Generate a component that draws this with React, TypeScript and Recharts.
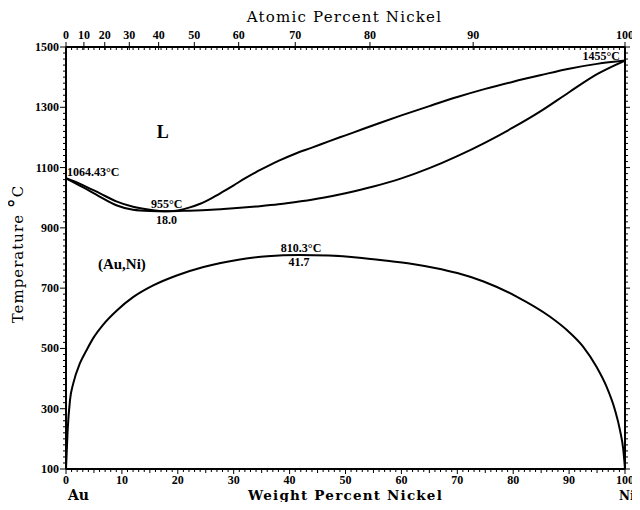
import React from "react"
import { LineChart, Line, XAxis, YAxis, ReferenceDot } from "recharts"

// Au-Ni phase diagram (wt% Ni, deg C)
const liquidus: [number, number][] = [
  [0, 1064.43], [3, 1042], [6, 1015], [9, 988], [12, 970], [15, 960],
  [18, 955], [20, 958], [22, 967], [24, 980], [26, 998], [28, 1019],
  [30, 1041], [32, 1064], [34, 1085], [36, 1104], [38, 1122], [41, 1146],
  [44, 1166], [47, 1187], [50, 1207], [53, 1227], [56, 1247], [60, 1273],
  [65, 1304], [70, 1334], [75, 1361], [80, 1385], [85, 1407], [90, 1428],
  [95, 1444], [100, 1455],
]

const solidus: [number, number][] = [
  [0, 1064.43], [3, 1035], [6, 1004], [9, 975], [12, 960], [15, 956],
  [18, 955], [22, 957], [26, 960], [30, 965], [34, 971], [38, 978],
  [42, 988], [46, 1000], [50, 1015], [55, 1037], [60, 1064], [65, 1098],
  [70, 1138], [75, 1183], [80, 1233], [85, 1288], [90, 1350], [95, 1410],
  [100, 1455],
]

const miscibilityGap: [number, number][] = [
  [0, 100], [0.3, 230], [0.72, 329], [1.3, 384], [2.5, 451], [3.7, 495],
  [4.9, 535], [6.7, 580], [9.1, 626], [12, 670], [15.6, 709], [19.8, 742],
  [24.6, 770], [31.1, 795], [36, 806], [41.7, 810.3], [47, 808], [52, 802],
  [57, 792], [62, 780], [66, 767], [70, 750], [74.7, 722], [80.6, 672],
  [86.6, 605], [89.6, 561], [92.5, 506], [94.9, 439], [96.7, 373],
  [98.2, 296], [99.1, 229], [99.7, 163], [100, 100],
]

const weightTicks = [0, 10, 20, 30, 40, 50, 60, 70, 80, 90, 100]
const atomicTicks = [0, 10, 20, 30, 40, 50, 60, 70, 80, 90, 100]
const tempTicks = [100, 300, 500, 700, 900, 1100, 1300, 1500]

const meltAu = 1064.43
const meltNi = 1455
const minimum = { wt: 18.0, t: 955 }
const critical = { wt: 41.7, t: 810.3 }

// atomic weights, for the top axis
const AU = 196.97
const NI = 58.69
const atToWt = (a: number) => (100 * a * NI) / (a * NI + (100 - a) * AU)

const toRows = (pts: [number, number][]) => pts.map(([wt, t]) => ({ wt, t }))

const minorWt = Array.from({ length: 101 }, (_, i) => i)
const minorTemp = Array.from({ length: 71 }, (_, i) => 100 + i * 20)
const atomicPos = atomicTicks.map(atToWt)
const topTicks = [...minorWt.filter((v) => v > 0 && v < 100), ...atomicPos]

const SERIF = "'Liberation Serif', 'Times New Roman', serif"
const DSERIF = "'DejaVu Serif', serif"

const LeftTick = ({ x, y, payload }: any) => {
  const major = tempTicks.includes(payload.value)
  return (
    <g>
      <line x1={x - (major ? 6 : 3)} x2={x} y1={y} y2={y} stroke="#000" />
      {major && (
        <text x={x - 7} y={y + 4} textAnchor="end" fontFamily={SERIF} fontWeight="bold" fontSize={12} fill="#000">
          {payload.value}
        </text>
      )}
    </g>
  )
}

const RightTick = ({ x, y, payload }: any) => {
  const major = tempTicks.includes(payload.value)
  return <line x1={x} x2={x + (major ? 5 : 3)} y1={y} y2={y} stroke="#000" />
}

const BottomTick = ({ x, y, payload }: any) => {
  const v = payload.value
  const major = weightTicks.includes(v)
  const len = major ? 5 : v % 5 === 0 ? 4 : 3
  return (
    <g>
      <line x1={x} x2={x} y1={y} y2={y + len} stroke="#000" />
      {major && (
        <text x={x} y={y + 15} textAnchor="middle" fontFamily={SERIF} fontWeight="bold" fontSize={12} fill="#000">
          {v}
        </text>
      )}
    </g>
  )
}

const TopTick = ({ x, y, payload }: any) => {
  const i = atomicPos.findIndex((p) => Math.abs(p - payload.value) < 1e-9)
  if (i < 0) return <line x1={x} x2={x} y1={y} y2={y + 3} stroke="#000" />
  return (
    <g>
      <line x1={x} x2={x} y1={y - 5} y2={y + 3} stroke="#000" />
      <text x={x} y={y - 8} textAnchor="middle" fontFamily={SERIF} fontWeight="bold" fontSize={12} fill="#000">
        {atomicTicks[i]}
      </text>
    </g>
  )
}

const Note = ({ viewBox, text, dx = 0, dy = 0, anchor = "middle", size = 12 }: any) => {
  if (!viewBox) return null
  return (
    <text
      x={viewBox.x + dx}
      y={viewBox.y + dy}
      textAnchor={anchor}
      fontFamily={SERIF}
      fontWeight="bold"
      fontSize={size}
      fill="#000"
    >
      {text}
    </text>
  )
}

const TopTitle = ({ viewBox }: any) => (
  <text
    x={viewBox.x + viewBox.width / 2 - 1}
    y={viewBox.y + viewBox.height - 25}
    textAnchor="middle"
    fontFamily={DSERIF}
    fontSize={15}
    letterSpacing={1.2}
    fill="#000"
  >
    Atomic Percent Nickel
  </text>
)

const BottomTitle = ({ viewBox }: any) => {
  const { x, y, width } = viewBox
  return (
    <g fontFamily={DSERIF} fontWeight="bold" fill="#000">
      <text x={x + width / 2} y={y + 31} textAnchor="middle" fontSize={13.5} letterSpacing={1.2}>
        Weight Percent Nickel
      </text>
      <text x={x + 2} y={y + 31} fontSize={14}>
        Au
      </text>
      <text x={x + width - 6} y={y + 31} fontSize={12}>
        Ni
      </text>
    </g>
  )
}

const LeftTitle = ({ viewBox }: any) => {
  const cx = viewBox.x + 17
  const cy = viewBox.y + viewBox.height / 2 - 4
  return (
    <text
      x={cx}
      y={cy}
      transform={`rotate(-90, ${cx}, ${cy})`}
      textAnchor="middle"
      fontFamily={DSERIF}
      fontSize={15}
      letterSpacing={1}
      fill="#000"
    >
      Temperature <tspan fontSize={20}>°</tspan>C
    </text>
  )
}

const line = {
  xAxisId: "bottom",
  yAxisId: "left",
  dataKey: "t",
  type: "monotone" as const,
  stroke: "#000",
  strokeWidth: 2,
  dot: false,
  isAnimationActive: false,
}

export default function App() {
  return (
    <div style={{ margin: -8, background: "#fff" }}>
      <LineChart width={640} height={510} margin={{ top: 17, right: 10, bottom: 11, left: 6 }}>
        <XAxis
          xAxisId="bottom"
          dataKey="wt"
          type="number"
          domain={[0, 100]}
          allowDataOverflow
          ticks={minorWt}
          interval={0}
          tickSize={0}
          tickMargin={0}
          tickLine={false}
          tick={<BottomTick />}
          height={30}
          axisLine={{ stroke: "#000", strokeWidth: 2 }}
          label={<BottomTitle />}
        />
        <XAxis
          xAxisId="top"
          orientation="top"
          dataKey="wt"
          type="number"
          domain={[0, 100]}
          allowDataOverflow
          ticks={topTicks}
          interval={0}
          tickSize={0}
          tickMargin={0}
          tickLine={false}
          tick={<TopTick />}
          height={30}
          axisLine={{ stroke: "#000", strokeWidth: 2 }}
          label={<TopTitle />}
        />
        <YAxis
          yAxisId="left"
          type="number"
          domain={[100, 1500]}
          allowDataOverflow
          ticks={minorTemp}
          interval={0}
          tickSize={0}
          tickMargin={0}
          tickLine={false}
          tick={<LeftTick />}
          width={60}
          axisLine={{ stroke: "#000", strokeWidth: 2 }}
          label={<LeftTitle />}
        />
        <YAxis
          yAxisId="right"
          orientation="right"
          type="number"
          domain={[100, 1500]}
          allowDataOverflow
          ticks={minorTemp}
          interval={0}
          tickSize={0}
          tickMargin={0}
          tickLine={false}
          tick={<RightTick />}
          width={5}
          axisLine={{ stroke: "#000", strokeWidth: 2 }}
        />

        <Line {...line} data={toRows(liquidus)} />
        <Line {...line} data={toRows(solidus)} />
        <Line {...line} data={toRows(miscibilityGap)} />

        <ReferenceDot xAxisId="bottom" yAxisId="left" x={0} y={meltAu} r={0} fill="none" stroke="none"
          label={<Note text={`${meltAu}°C`} dx={1} dy={-2} anchor="start" />} />
        <ReferenceDot xAxisId="bottom" yAxisId="left" x={minimum.wt} y={minimum.t} r={0} fill="none" stroke="none"
          label={<Note text={`${minimum.t}°C`} dy={-3} />} />
        <ReferenceDot xAxisId="bottom" yAxisId="left" x={minimum.wt} y={minimum.t - 1} r={0} fill="none" stroke="none"
          label={<Note text={minimum.wt.toFixed(1)} dy={12} />} />
        <ReferenceDot xAxisId="bottom" yAxisId="left" x={critical.wt} y={critical.t} r={0} fill="none" stroke="none"
          label={<Note text={`${critical.t}°C`} dx={2} dy={-3} />} />
        <ReferenceDot xAxisId="bottom" yAxisId="left" x={critical.wt} y={critical.t - 1} r={0} fill="none" stroke="none"
          label={<Note text={critical.wt.toFixed(1)} dy={11} />} />
        <ReferenceDot xAxisId="bottom" yAxisId="left" x={100} y={meltNi} r={0} fill="none" stroke="none"
          label={<Note text={`${meltNi}°C`} dx={-5} dy={-1} anchor="end" />} />
        <ReferenceDot xAxisId="bottom" yAxisId="left" x={17.3} y={1198} r={0} fill="none" stroke="none"
          label={<Note text="L" size={18} />} />
        <ReferenceDot xAxisId="bottom" yAxisId="left" x={10} y={764} r={0} fill="none" stroke="none"
          label={<Note text="(Au,Ni)" size={15} />} />
      </LineChart>
    </div>
  )
}
